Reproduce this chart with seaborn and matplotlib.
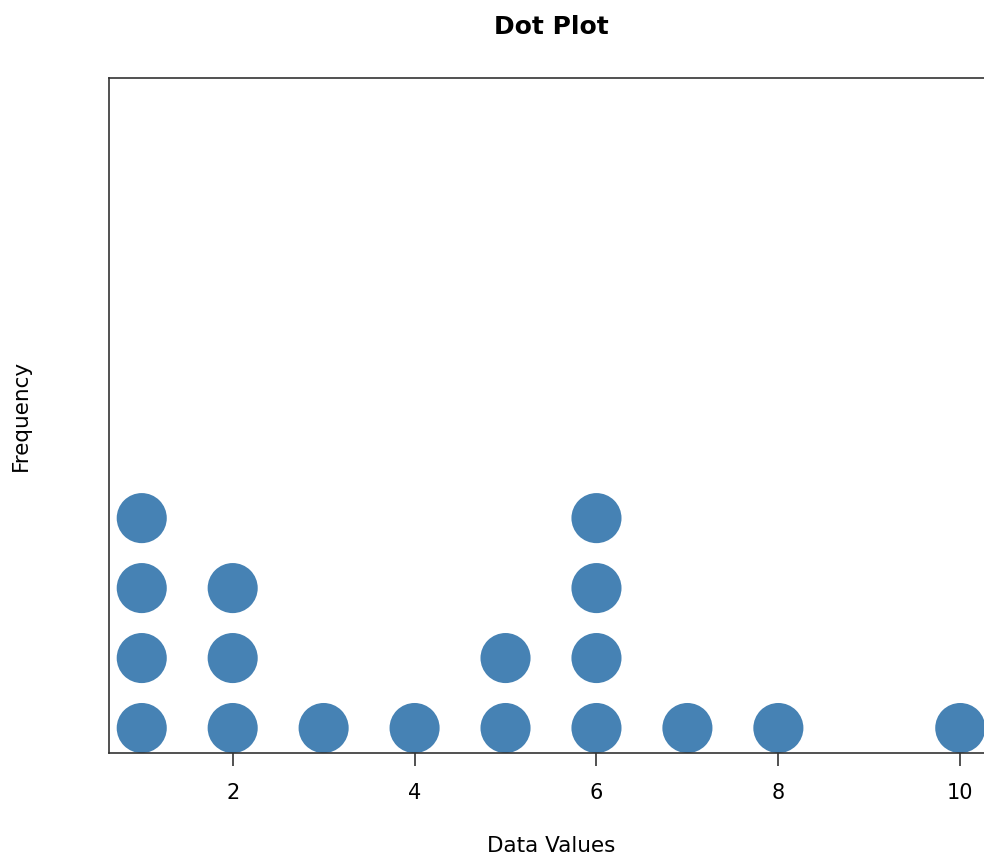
import pandas as pd
import seaborn as sns
import matplotlib.pyplot as plt

# valeurs observées et leurs effectifs
values = [1, 2, 3, 4, 5, 6, 7, 8, 10]
counts = [4, 3, 1, 1, 2, 4, 1, 1, 1]

df = pd.DataFrame({"value": values, "count": counts})
df = df.loc[df.index.repeat(df["count"])].reset_index(drop=True)
df["level"] = df.groupby("value").cumcount()

sns.set_style("white")
plt.rcParams["text.color"] = "black"
plt.rcParams["xtick.color"] = "black"
plt.rcParams["axes.labelcolor"] = "black"

fig = plt.figure(figsize=(9.84, 8.56), dpi=100)
ax = fig.add_axes([109 / 984, 103 / 856, 884 / 984, 675 / 856])

sns.scatterplot(data=df, x="value", y="level", s=1300, color="#4682B4",
                edgecolor="none", ax=ax, legend=False, clip_on=False)

ax.set_xlim(0.64, 10.36)
ax.set_ylim(-0.357, 9.29)
ax.set_xticks([2, 4, 6, 8, 10])
ax.set_yticks([])
ax.tick_params(axis="x", length=9.5, width=1.2, color="#333333", pad=12, labelsize=15, bottom=True)
for s in ax.spines.values():
    s.set_color("#333333")
    s.set_linewidth(1.2)

ax.set_title("Dot Plot", fontsize=18, fontweight="bold", pad=32)
ax.set_xlabel("Data Values", fontsize=15.5, labelpad=24)
ax.set_ylabel("Frequency", fontsize=15.5, labelpad=56)

fig.savefig("out.png", dpi=100)
